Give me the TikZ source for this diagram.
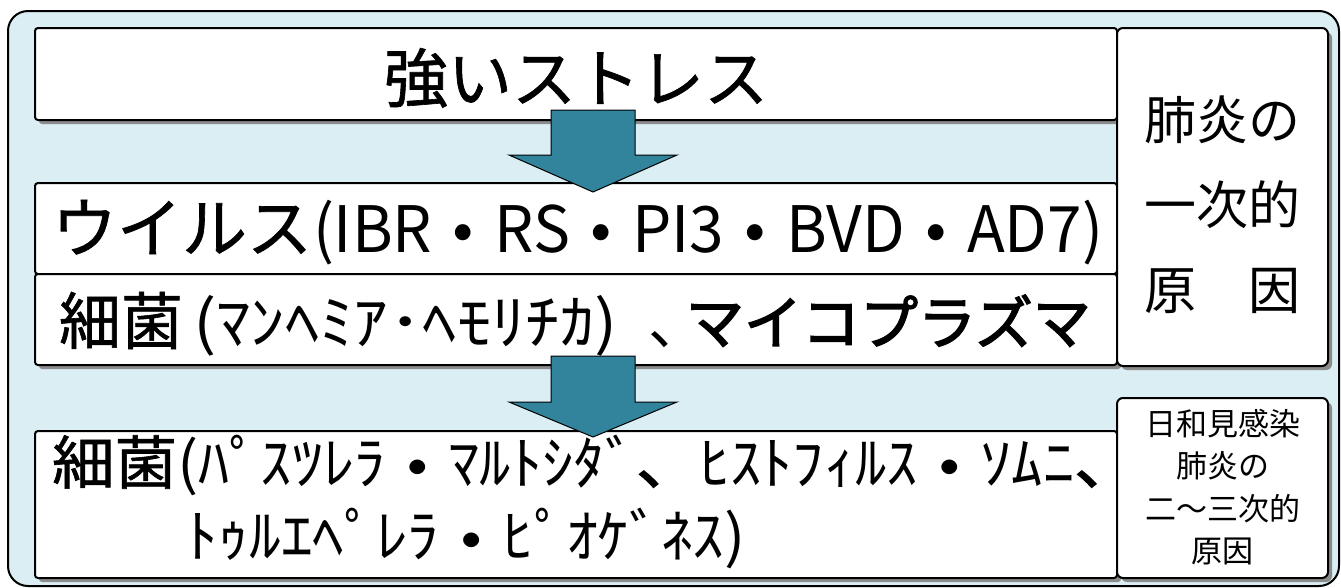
\documentclass[tikz,border=0pt]{standalone}
\usepackage{fontspec}
\setmainfont{Noto Sans CJK JP}
\newfontfamily\jpmed[FakeBold=1]{Noto Sans CJK JP}
\newfontfamily\jpheavy[FakeBold=2.5]{Noto Sans CJK JP}
\usepackage{graphicx}
\usetikzlibrary{shadows}
\definecolor{bgblue}{HTML}{DAEEF3}
\definecolor{arrowteal}{HTML}{31849B}
\definecolor{shadowgray}{HTML}{8C8C8C}
\newcommand{\myfs}[1]{\fontsize{#1}{#1}\selectfont}
\newcommand{\bdot}[1]{\makebox[1em]{\raisebox{#1}{\scalebox{0.28}{●}}}}
\begin{document}
\begin{tikzpicture}[x=1pt,y=-1pt,
  lbox/.style={draw=black, line width=2pt, fill=white, rounded corners=3pt,
    inner sep=0pt, outer sep=0pt, anchor=north west,
    drop shadow={shadow xshift=4pt, shadow yshift=-4pt, fill=shadowgray, opacity=1}},
  rbox/.style={lbox, rounded corners=6pt},
  txt/.style={inner sep=0pt, outer sep=0pt, anchor=base west},
  ctxt/.style={inner sep=0pt, outer sep=0pt, anchor=base},
  bigarrow/.style={draw=black, line width=1pt, fill=arrowteal, line join=miter}]

\useasboundingbox (0,0) rectangle (1341,587);

% outer panel
\node[draw=black, line width=2pt, fill=bgblue, rounded corners=20pt,
  minimum width=1331pt, minimum height=575pt, anchor=north west,
  inner sep=0pt] (outer) at (7,10) {};

% left boxes
\node[lbox, minimum width=1082pt, minimum height=92pt] (b1) at (35,28) {};
\node[lbox, minimum width=1082pt, minimum height=91pt] (b2) at (35,183) {};
\node[lbox, minimum width=1082pt, minimum height=91pt] (b3) at (35,274) {};
\node[lbox, minimum width=1082pt, minimum height=147pt] (b4) at (35,431) {};

% right boxes
\node[rbox, minimum width=211pt, minimum height=338pt] (r1) at (1117,28) {};
\node[rbox, minimum width=211pt, minimum height=180pt] (r2) at (1117,398) {};

% block arrows
\draw[bigarrow] (551,110) -- (635,110) -- (635,155) -- (677,155) -- (593,192)
  -- (509,155) -- (551,155) -- cycle;
\draw[bigarrow] (551,356) -- (635,356) -- (635,402) -- (677,402) -- (593,437)
  -- (509,402) -- (551,402) -- cycle;

% texts
\node[txt] (t1) at (384,102) {\jpmed\myfs{64}強いストレス};

\node[txt] (t2a) at (52,252) {\jpmed\myfs{65}ウイルス};
\node[txt] (t2b) at (313,252) {\resizebox{790pt}{\height}{\myfs{64}(IBR\bdot{0.19em}RS\bdot{0.19em}PI3\bdot{0.19em}BVD\bdot{0.19em}AD7)}};

\node[txt] (t3a) at (59,344) {\jpmed\myfs{62}細菌};
\node[txt] (t3b) at (193,344) {\resizebox{425pt}{\height}{\myfs{60}(ﾏﾝﾍﾐｱ･ﾍﾓﾘﾁｶ)}};
\node[txt] (t3c) at (648,344) {\myfs{58}、};
\node[txt] (t3d) at (686,344) {\jpheavy\myfs{58}マイコプラズマ};

\node[txt] (t4a) at (52,484) {\resizebox{1085pt}{\height}{\myfs{58}{\jpmed 細菌}(ﾊﾟｽﾂﾚﾗ\bdot{0.18em}ﾏﾙﾄｼﾀﾞ{\jpheavy 、}ﾋｽﾄﾌｨﾙｽ\bdot{0.18em}ｿﾑﾆ{\jpheavy 、}}};
\node[txt] (t4b) at (186,557) {\resizebox{560pt}{\height}{\myfs{58}ﾄｩﾙｴﾍﾟﾚﾗ\bdot{0.18em}ﾋﾟｵｹﾞﾈｽ)}};

\node[ctxt] (r1a) at (1222.5,139) {\myfs{52}肺炎の};
\node[ctxt] (r1b) at (1222.5,224) {\myfs{52}一次的};
\node[ctxt] (r1c) at (1222.5,309) {\myfs{52}原　因};

\node[ctxt] (r2a) at (1222.5,435) {\myfs{31}日和見感染};
\node[ctxt] (r2b) at (1222.5,477) {\myfs{31}肺炎の};
\node[ctxt] (r2c) at (1222.5,520) {\myfs{31}二～三次的};
\node[ctxt] (r2d) at (1222.5,562) {\myfs{31}原因};
\end{tikzpicture}
\end{document}
